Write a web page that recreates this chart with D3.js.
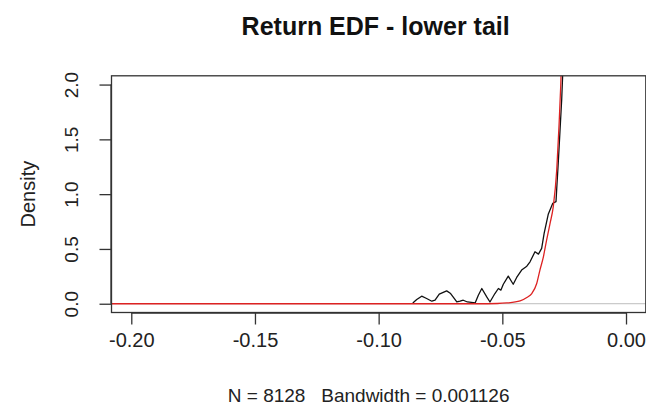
<!DOCTYPE html>
<html>
<head>
<meta charset="utf-8">
<script src="https://cdn.jsdelivr.net/npm/d3@7"></script>
<style>
  html, body { margin: 0; padding: 0; background: #fff; }
  svg { display: block; font-family: "Liberation Sans", Arial, sans-serif; }
  text { white-space: pre; }
</style>
</head>
<body>
<svg id="chart" width="646" height="415"></svg>
<script>
// Kernel density of the return sample (lower tail), x = return, y = density
const edfX = [-0.0862, -0.0846, -0.0826, -0.0806, -0.0785, -0.0772, -0.0755, -0.0725, -0.0709,
  -0.0684, -0.0671, -0.0658, -0.0641, -0.0610, -0.0597, -0.0583, -0.0563, -0.0550, -0.0530,
  -0.0516, -0.0506, -0.0496, -0.0476, -0.0456, -0.0442, -0.0422, -0.0401, -0.0388, -0.0368,
  -0.0354, -0.0341, -0.0331, -0.0314, -0.0296, -0.0283, -0.0280, -0.0274, -0.0267, -0.0260,
  -0.0256, -0.0252];
const edfY = [0.007, 0.038, 0.069, 0.048, 0.023, 0.032, 0.087, 0.117, 0.093,
  0.016, 0.023, 0.032, 0.016, 0.007, 0.078, 0.139, 0.062, 0.016, 0.093,
  0.139, 0.124, 0.178, 0.252, 0.178, 0.240, 0.307, 0.343, 0.383, 0.474,
  0.453, 0.505, 0.643, 0.819, 0.917, 0.932, 1.054, 1.283, 1.573, 1.863,
  2.09, 2.40];

// Fitted normal density over the same range
const normX = [-0.208, -0.150, -0.100, -0.060, -0.0520, -0.0482, -0.0428, -0.0401, -0.0381,
  -0.0361, -0.0348, -0.0334, -0.0321, -0.0307, -0.0294, -0.0280, -0.0271, -0.0264, -0.0258];
const normY = [0, 0, 0, 0, 0.002, 0.007, 0.026, 0.057, 0.093,
  0.185, 0.307, 0.428, 0.581, 0.734, 0.886, 1.222, 1.618, 1.984, 2.40];

const xTicks = [-0.20, -0.15, -0.10, -0.05, 0.00];
const yTicks = [0.0, 0.5, 1.0, 1.5, 2.0];

const titleText = "Return EDF - lower tail";
const xLabel = "N = 8128   Bandwidth = 0.001126";
const yLabel = "Density";

const svg = d3.select("#chart");
const box = { left: 111.5, right: 645.8, top: 75.8, bottom: 312.5 };

const x = d3.scaleLinear().domain([-0.208, 0.008]).range([box.left, box.right]);
const y = d3.scaleLinear().domain([-0.08, 2.08]).range([box.bottom, box.top]);

svg.append("defs").append("clipPath").attr("id", "plotClip")
  .append("rect")
  .attr("x", box.left).attr("y", box.top)
  .attr("width", box.right - box.left).attr("height", box.bottom - box.top);

// zero line
svg.append("line")
  .attr("x1", box.left).attr("x2", box.right)
  .attr("y1", y(0)).attr("y2", y(0))
  .attr("stroke", "#bdbdbd").attr("stroke-width", 1);

const line = d3.line().x(d => x(d[0])).y(d => y(d[1]));

const plot = svg.append("g").attr("clip-path", "url(#plotClip)");
plot.append("path")
  .datum(d3.zip(edfX, edfY))
  .attr("d", line)
  .attr("fill", "none").attr("stroke", "#111").attr("stroke-width", 1.3)
  .attr("stroke-linejoin", "round");
plot.append("path")
  .datum(d3.zip(normX, normY))
  .attr("d", line.curve(d3.curveMonotoneX))
  .attr("fill", "none").attr("stroke", "#dd2222").attr("stroke-width", 1.3);

// plot frame
svg.append("rect")
  .attr("x", box.left).attr("y", box.top)
  .attr("width", box.right - box.left).attr("height", box.bottom - box.top)
  .attr("fill", "none").attr("stroke", "#333").attr("stroke-width", 1.3);

// x axis
const xAxis = d3.axisBottom(x).tickValues(xTicks).tickFormat(d3.format(".2f"))
  .tickSize(12).tickPadding(8);
const gx = svg.append("g").attr("transform", `translate(0,${box.bottom})`).call(xAxis);
gx.select(".domain").attr("d", `M${x(-0.20)},0.5H${x(0)}`).attr("stroke", "#333").attr("stroke-width", 1.3);
gx.selectAll(".tick line").attr("stroke", "#333").attr("stroke-width", 1.3);
gx.selectAll(".tick text").attr("font-size", 20).attr("fill", "#222")
  .attr("font-family", "Liberation Sans, Arial, sans-serif")
  .text(d => d.toFixed(2));

// y axis
const yAxis = d3.axisLeft(y).tickValues(yTicks).tickFormat(d3.format(".1f")).tickSize(12);
const gy = svg.append("g").attr("transform", `translate(${box.left},0)`).call(yAxis);
gy.select(".domain").attr("d", `M-0.5,${y(0)}V${y(2)}`).attr("stroke", "#333").attr("stroke-width", 1.3);
gy.selectAll(".tick line").attr("stroke", "#333").attr("stroke-width", 1.3);
gy.selectAll(".tick text")
  .attr("font-size", 19).attr("fill", "#222")
  .attr("font-family", "Liberation Sans, Arial, sans-serif")
  .attr("x", null).attr("dy", null)
  .attr("text-anchor", "middle")
  .attr("transform", `translate(${78 - box.left},0) rotate(-90)`);

// title and axis labels
svg.append("text")
  .attr("x", (box.left + box.right) / 2 - 3).attr("y", 35)
  .attr("text-anchor", "middle").attr("font-weight", "bold").attr("font-size", 25)
  .attr("fill", "#111").text(titleText);
svg.append("text")
  .attr("x", (box.left + box.right) / 2 - 10).attr("y", 402)
  .attr("text-anchor", "middle").attr("font-size", 19)
  .attr("xml:space", "preserve")
  .attr("fill", "#222").text(xLabel);
svg.append("text")
  .attr("transform", `translate(35,${(box.top + box.bottom) / 2}) rotate(-90)`)
  .attr("text-anchor", "middle").attr("font-size", 20)
  .attr("fill", "#222").text(yLabel);
</script>
</body>
</html>
